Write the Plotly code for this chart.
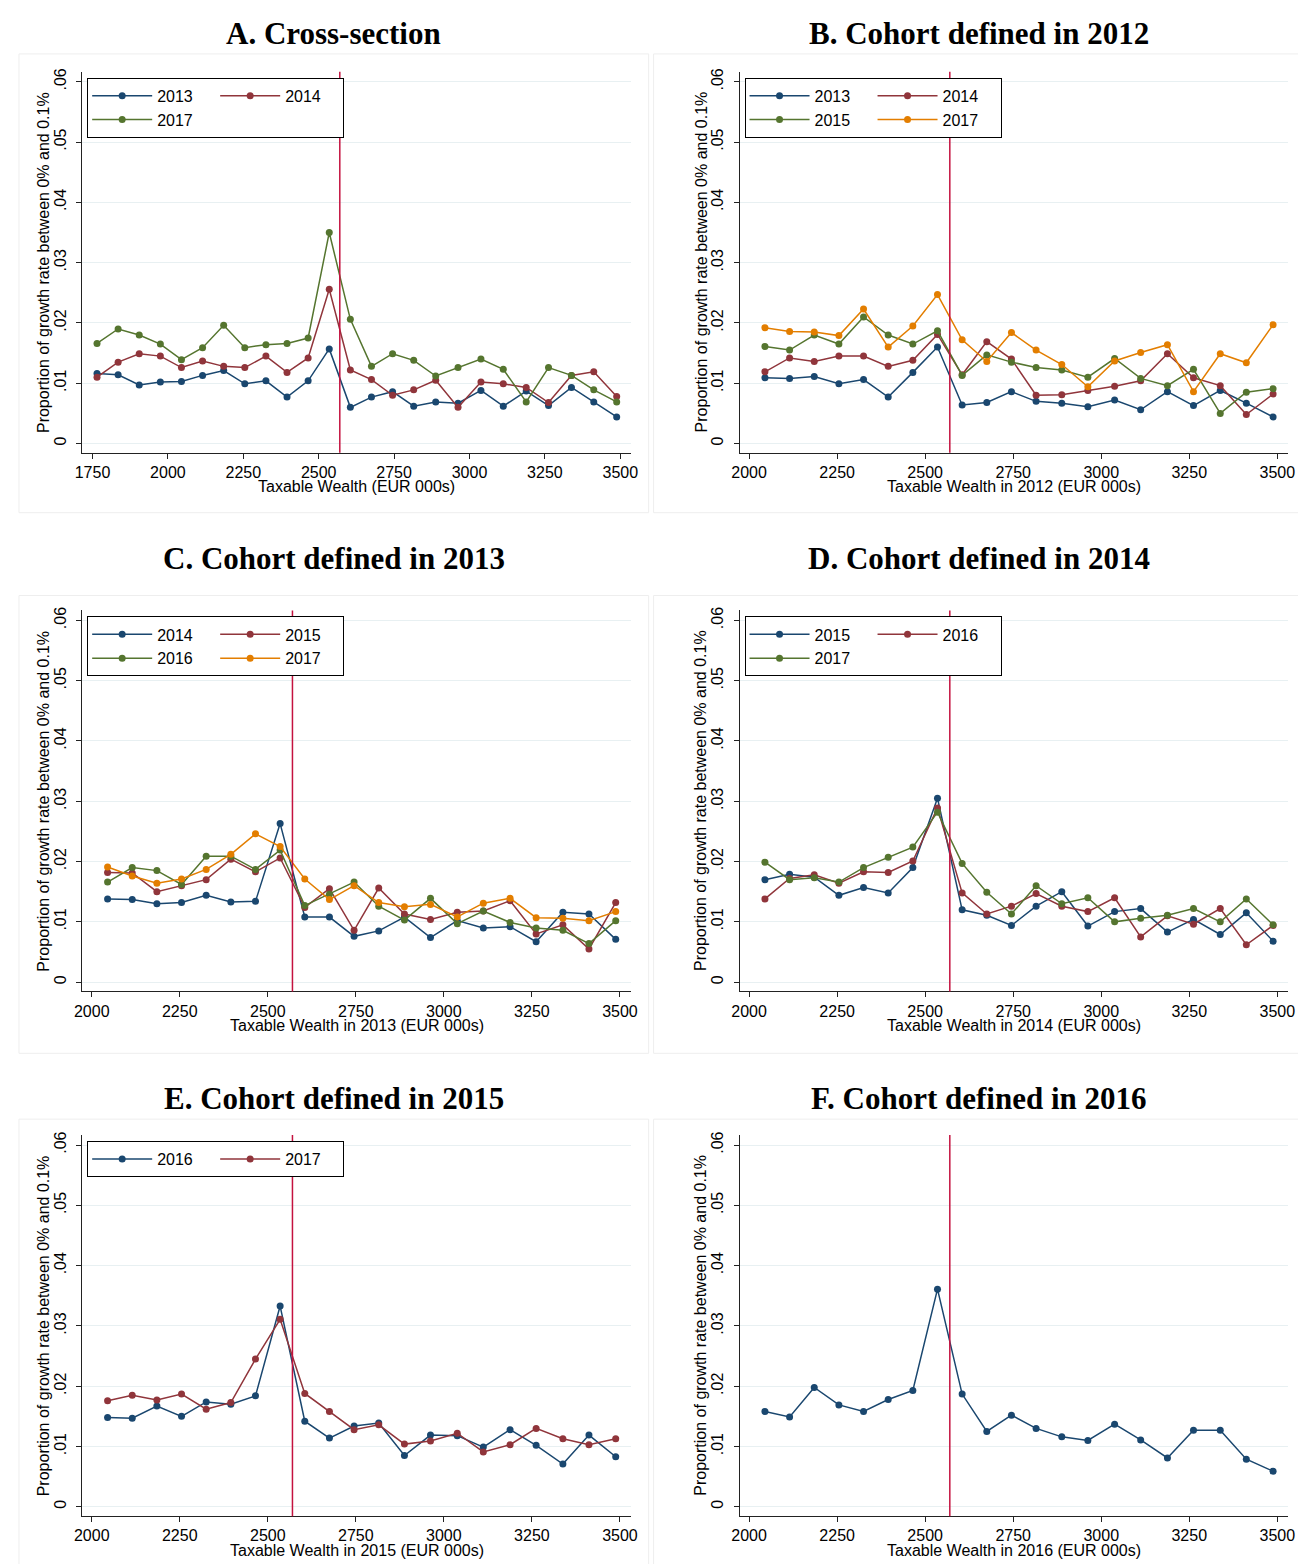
import plotly.graph_objects as go

# bin midpoints of taxable wealth (EUR 000s)
wealth_bins = [1765, 1835, 1905, 1975, 2045, 2115, 2185, 2255, 2325, 2395, 2465, 2535,
               2605, 2675, 2745, 2815, 2888, 2962, 3038, 3112, 3188, 3262, 3338, 3412, 3488]
cohort_bins = wealth_bins[4:]
threshold = 2570

# A. Cross-section
cs_2013 = [.0116, .0114, .0097, .0102, .0103, .0113, .0121, .0099, .0104, .0077, .0104, .0157,
           .0060, .0077, .0086, .0062, .0069, .0067, .0088, .0062, .0087, .0063, .0093, .0069, .0044]
cs_2014 = [.0110, .0135, .0149, .0145, .0126, .0137, .0128, .0126, .0145, .0118, .0142, .0256,
           .0122, .0106, .0080, .0089, .0105, .0060, .0102, .0099, .0093, .0068, .0113, .0119, .0078]
cs_2017 = [.0166, .0190, .0180, .0165, .0139, .0159, .0196, .0159, .0164, .0166, .0175, .0350,
           .0206, .0128, .0149, .0138, .0112, .0126, .0140, .0123, .0069, .0126, .0113, .0089, .0069]

# B. Cohort defined in 2012
c12_2013 = [.0109, .0108, .0111, .0099, .0106, .0077, .0118, .0160, .0064, .0068, .0086,
            .0070, .0067, .0061, .0072, .0056, .0086, .0063, .0088, .0067, .0044]
c12_2014 = [.0119, .0142, .0136, .0145, .0145, .0128, .0138, .0181, .0114, .0169, .0140,
            .0080, .0081, .0088, .0095, .0104, .0149, .0109, .0096, .0048, .0082]
c12_2015 = [.0161, .0155, .0180, .0165, .0210, .0180, .0165, .0187, .0113, .0147, .0135,
            .0126, .0122, .0110, .0141, .0108, .0096, .0123, .0050, .0085, .0091]
c12_2017 = [.0192, .0186, .0185, .0179, .0223, .0160, .0195, .0247, .0172, .0136, .0184,
            .0155, .0131, .0094, .0137, .0151, .0164, .0086, .0149, .0134, .0197]

# C. Cohort defined in 2013
c13_2014 = [.0138, .0137, .0130, .0132, .0144, .0133, .0134, .0263, .0108, .0108, .0076,
            .0085, .0108, .0074, .0102, .0090, .0092, .0067, .0116, .0113, .0071]
c13_2015 = [.0182, .0181, .0150, .0160, .0170, .0204, .0183, .0206, .0124, .0155, .0086,
            .0156, .0113, .0104, .0116, .0118, .0135, .0080, .0095, .0055, .0132]
c13_2016 = [.0166, .0190, .0185, .0162, .0209, .0209, .0187, .0219, .0127, .0146, .0166,
            .0126, .0103, .0139, .0097, .0118, .0099, .0090, .0086, .0064, .0102]
c13_2017 = [.0191, .0176, .0164, .0171, .0187, .0212, .0246, .0225, .0171, .0137, .0160,
            .0132, .0125, .0129, .0108, .0131, .0139, .0107, .0106, .0102, .0117]

# D. Cohort defined in 2014
c14_2015 = [.0170, .0179, .0174, .0144, .0157, .0148, .0190, .0305, .0120, .0111, .0094,
            .0126, .0150, .0093, .0117, .0122, .0083, .0104, .0079, .0115, .0068]
c14_2016 = [.0138, .0172, .0178, .0164, .0183, .0182, .0201, .0289, .0148, .0113, .0126,
            .0147, .0126, .0117, .0140, .0075, .0110, .0096, .0122, .0062, .0094]
c14_2017 = [.0199, .0170, .0173, .0166, .0190, .0207, .0224, .0282, .0197, .0149, .0113,
            .0160, .0130, .0140, .0100, .0106, .0111, .0122, .0100, .0138, .0095]

# E. Cohort defined in 2015
c15_2016 = [.0148, .0147, .0167, .0150, .0174, .0170, .0184, .0333, .0142, .0114, .0134,
            .0139, .0085, .0119, .0118, .0099, .0128, .0102, .0071, .0119, .0083]
c15_2017 = [.0176, .0185, .0177, .0187, .0162, .0173, .0245, .0311, .0188, .0158, .0128,
            .0136, .0104, .0109, .0122, .0091, .0103, .0130, .0113, .0103, .0113]

# F. Cohort defined in 2016
c16_2017 = [.0158, .0149, .0198, .0169, .0158, .0178, .0193, .0361, .0187, .0125, .0152,
            .0130, .0116, .0110, .0137, .0111, .0081, .0127, .0127, .0079, .0059]

colors = ['#1a476f', '#90353b', '#55752f', '#e37e00']
W, H = 1306, 1564

cohort_ticks = [2000, 2250, 2500, 2750, 3000, 3250, 3500]
panels = [
    ('A. Cross-section', 'Taxable Wealth (EUR 000s)', wealth_bins, [1716, 3535],
     [1750] + cohort_ticks,
     [('2013', cs_2013), ('2014', cs_2014), ('2017', cs_2017)]),
    ('B. Cohort defined in 2012', 'Taxable Wealth in 2012 (EUR 000s)', cohort_bins, [1973, 3531],
     cohort_ticks,
     [('2013', c12_2013), ('2014', c12_2014), ('2015', c12_2015), ('2017', c12_2017)]),
    ('C. Cohort defined in 2013', 'Taxable Wealth in 2013 (EUR 000s)', cohort_bins, [1973, 3531],
     cohort_ticks,
     [('2014', c13_2014), ('2015', c13_2015), ('2016', c13_2016), ('2017', c13_2017)]),
    ('D. Cohort defined in 2014', 'Taxable Wealth in 2014 (EUR 000s)', cohort_bins, [1973, 3531],
     cohort_ticks,
     [('2015', c14_2015), ('2016', c14_2016), ('2017', c14_2017)]),
    ('E. Cohort defined in 2015', 'Taxable Wealth in 2015 (EUR 000s)', cohort_bins, [1973, 3531],
     cohort_ticks,
     [('2016', c15_2016), ('2017', c15_2017)]),
    ('F. Cohort defined in 2016', 'Taxable Wealth in 2016 (EUR 000s)', cohort_bins, [1973, 3531],
     cohort_ticks,
     [('2017', c16_2017)]),
]

yticks = [0, .01, .02, .03, .04, .05, .06]
yticktext = ['0', '.01', '.02', '.03', '.04', '.05', '.06']

# pixel boxes of plot regions
cols = [(67, 622), (732, 1287)]
rows = [(60, 442), (600, 982), (1126, 1508)]
title_y = [22, 548, 1089]
region_y = [(42, 502), (585, 1044), (1110, 1562)]
region_x = [(3, 640), (645, 1303)]

fig = go.Figure()
annotations = []
shapes = []
font = 'Liberation Sans, Arial, sans-serif'

for i, (title, xtitle, xs, xrange, xticks, series) in enumerate(panels):
    r, c = divmod(i, 2)
    n = '' if i == 0 else str(i + 1)
    x0, x1 = cols[c]
    top, bot = rows[r]
    leg = 'legend' if i == 0 else 'legend' + str(i + 1)
    for k, (name, vals) in enumerate(series):
        fig.add_trace(go.Scatter(
            x=xs, y=vals, name=name, mode='lines+markers',
            line=dict(color=colors[k], width=1.5),
            marker=dict(color=colors[k], size=7),
            xaxis='x' + n, yaxis='y' + n,
            legend=leg, legendgroup='g%d_%d' % (i, k % 2),
            showlegend=len(series) > 1,
        ))
    fig.layout['xaxis' + n] = dict(
        domain=[x0 / W, x1 / W], range=xrange, anchor='y' + n,
        tickvals=xticks, ticks='outside', ticklen=5, tickcolor='#222',
        showline=True, linecolor='#222', linewidth=1, showgrid=False, zeroline=False,
        tickfont=dict(family=font, size=16, color='black'),
    )
    fig.layout['yaxis' + n] = dict(
        domain=[1 - bot / H, 1 - top / H], range=[-0.00155, 0.06165], anchor='x' + n,
        tickvals=yticks, ticktext=yticktext, tickangle=-90, ticklabelstandoff=4,
        ticks='outside', ticklen=5, tickcolor='#222',
        showline=True, linecolor='#222', linewidth=1,
        showgrid=True, gridcolor='#e8f0f2', gridwidth=1, zeroline=False,
        tickfont=dict(family=font, size=16, color='black'),
    )
    shapes.append(dict(type='line', xref='x' + n, yref='y%s domain' % n,
                       x0=threshold, x1=threshold, y0=0, y1=1,
                       line=dict(color='#c4123f', width=1.5)))
    rx0, rx1 = region_x[c]
    ry0, ry1 = region_y[r]
    shapes.append(dict(type='rect', xref='paper', yref='paper', layer='below',
                       x0=rx0 / W, x1=rx1 / W, y0=1 - ry1 / H, y1=1 - ry0 / H,
                       line=dict(color='#eeeeee', width=1)))
    annotations.append(dict(text='<b>%s</b>' % title, xref='paper', yref='paper',
                            x=(rx0 + rx1) / 2 / W, y=1 - title_y[r] / H,
                            showarrow=False, xanchor='center', yanchor='middle',
                            font=dict(family='Liberation Serif, Times New Roman, serif',
                                      size=31, color='black')))
    annotations.append(dict(text=xtitle, xref='paper', yref='paper',
                            x=(x0 + x1) / 2 / W, y=1 - (bot + 34) / H,
                            showarrow=False, xanchor='center', yanchor='middle',
                            font=dict(family=font, size=16, color='black')))
    annotations.append(dict(text='Proportion of growth rate between 0% and 0.1%',
                            xref='paper', yref='paper', textangle=-90,
                            x=(x0 - 39) / W, y=1 - (top + bot) / 2 / H,
                            showarrow=False, xanchor='center', yanchor='middle',
                            font=dict(family=font, size=16, color='black')))
    if len(series) > 1:
        fig.layout[leg] = dict(
            x=(x0 + 5) / W, y=1 - (top + 6) / H, xanchor='left', yanchor='top',
            orientation='h', traceorder='grouped', bgcolor='white',
            bordercolor='black', borderwidth=1, itemwidth=60,
            entrywidth=53, entrywidthmode='pixels',
            font=dict(family=font, size=16, color='black'),
        )

fig.update_layout(
    width=W, height=H, autosize=False, showlegend=True,
    margin=dict(l=0, r=0, t=0, b=0),
    paper_bgcolor='white', plot_bgcolor='white',
    annotations=annotations, shapes=shapes,
)

fig.write_html('out.html')
